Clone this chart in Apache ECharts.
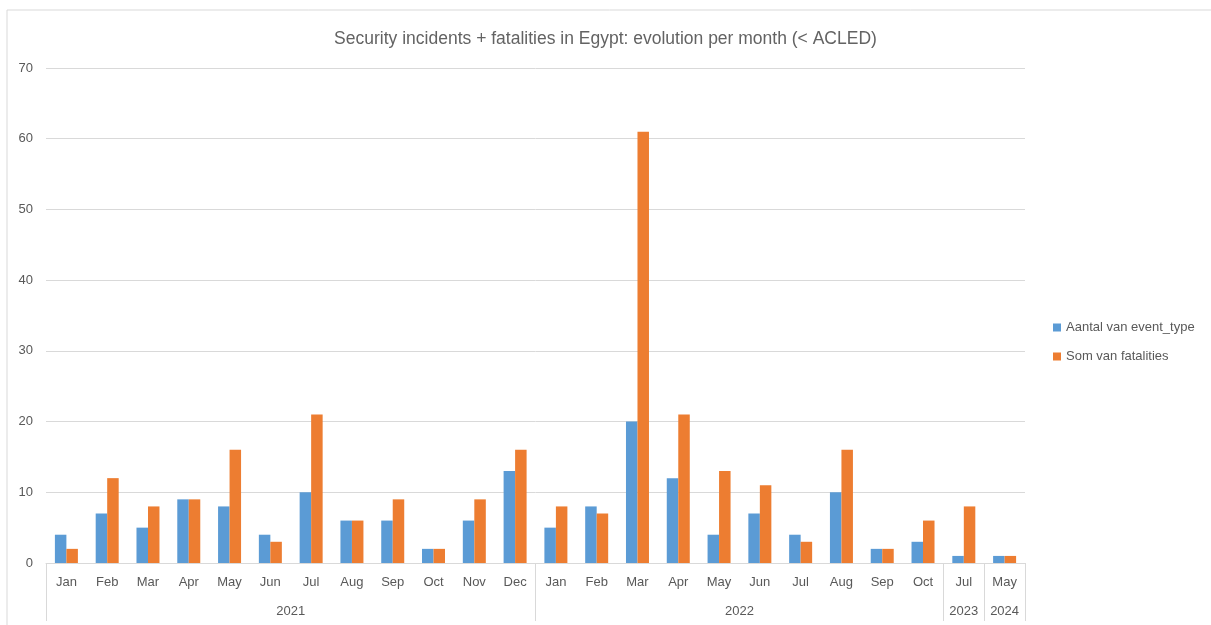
<!DOCTYPE html>
<html>
<head>
<meta charset="utf-8">
<script src="https://cdn.jsdelivr.net/npm/echarts@6/dist/echarts.min.js"></script>
<style>
  html, body { margin: 0; padding: 0; background: #fff; }
  #chart { width: 1211px; height: 625px; }
</style>
</head>
<body>
<div id="chart"></div>
<script>
// categories (month + year per bar group)
const months = ['Jan', 'Feb', 'Mar', 'Apr', 'May', 'Jun', 'Jul', 'Aug', 'Sep', 'Oct', 'Nov', 'Dec',
  'Jan', 'Feb', 'Mar', 'Apr', 'May', 'Jun', 'Jul', 'Aug', 'Sep', 'Oct',
  'Jul', 'May']
const years = ['2021', '2021', '2021', '2021', '2021', '2021', '2021', '2021', '2021', '2021', '2021', '2021',
  '2022', '2022', '2022', '2022', '2022', '2022', '2022', '2022', '2022', '2022',
  '2023', '2024']
// series values
const eventCount = [4, 7, 5, 9, 8, 4, 10, 6, 6, 2, 6, 13, 5, 8, 20, 12, 4, 7, 4, 10, 2, 3, 1, 1]
const fatalities = [2, 12, 8, 9, 16, 3, 21, 6, 9, 2, 9, 16, 8, 7, 61, 21, 13, 11, 3, 16, 2, 6, 8, 1]
const yTicks = [0, 10, 20, 30, 40, 50, 60, 70]

const chart = echarts.init(document.getElementById('chart'))

// year level of the axis: half-step slots so labels sit in the middle of each group
const n = months.length
const yearSlots = new Array(2 * n + 1).fill('')
const boundaries = new Set()
let start = 0
for (let i = 1; i <= n; i++) {
  if (i === n || years[i] !== years[start]) {
    boundaries.add(2 * start)
    boundaries.add(2 * i)
    yearSlots[start + i] = years[start]
    start = i
  }
}

const grey = '#d9d9d9'
const textColor = '#595959'
const font = 'Liberation Sans'

chart.setOption({
  animation: false,
  title: {
    text: 'Security incidents + fatalities in Egypt: evolution per month (< ACLED)',
    left: 'center',
    top: 25,
    textStyle: { fontSize: 17.5, fontWeight: 'normal', color: '#636363', fontFamily: font }
  },
  legend: {
    orient: 'vertical',
    left: 1048,
    top: 316,
    icon: 'rect',
    itemWidth: 8,
    itemHeight: 8,
    itemGap: 16,
    textStyle: { fontSize: 13, color: textColor, fontFamily: font }
  },
  graphic: [{
    type: 'rect',
    shape: { x: 7, y: 10, width: 1400, height: 800 },
    style: { fill: 'none', stroke: grey, lineWidth: 1 },
    silent: true
  }],
  grid: { left: 46, right: 186, top: 68, bottom: 62 },
  xAxis: [
    {
      type: 'category',
      data: months,
      axisLine: { lineStyle: { color: grey } },
      axisTick: { show: false },
      axisLabel: { color: textColor, fontSize: 13, fontFamily: font, margin: 13, interval: 0 }
    },
    {
      type: 'category',
      position: 'bottom',
      boundaryGap: false,
      data: yearSlots,
      axisLine: { show: false },
      axisTick: {
        show: true,
        length: 58,
        interval: (idx) => boundaries.has(idx),
        lineStyle: { color: grey }
      },
      axisLabel: { color: textColor, fontSize: 13, fontFamily: font, margin: 42, interval: 0 }
    }
  ],
  yAxis: {
    type: 'value',
    min: yTicks[0],
    max: yTicks[yTicks.length - 1],
    interval: 10,
    axisLine: { show: false },
    axisTick: { show: false },
    splitLine: { lineStyle: { color: grey } },
    axisLabel: { color: textColor, fontSize: 13, fontFamily: font, margin: 13 }
  },
  series: [
    {
      name: 'Aantal van event_type',
      type: 'bar',
      data: eventCount,
      barWidth: 11.5,
      barGap: '0%',
      itemStyle: { color: '#5b9bd5' }
    },
    {
      name: 'Som van fatalities',
      type: 'bar',
      data: fatalities,
      barWidth: 11.5,
      barGap: '0%',
      itemStyle: { color: '#ed7d31' }
    }
  ]
})
</script>
</body>
</html>
